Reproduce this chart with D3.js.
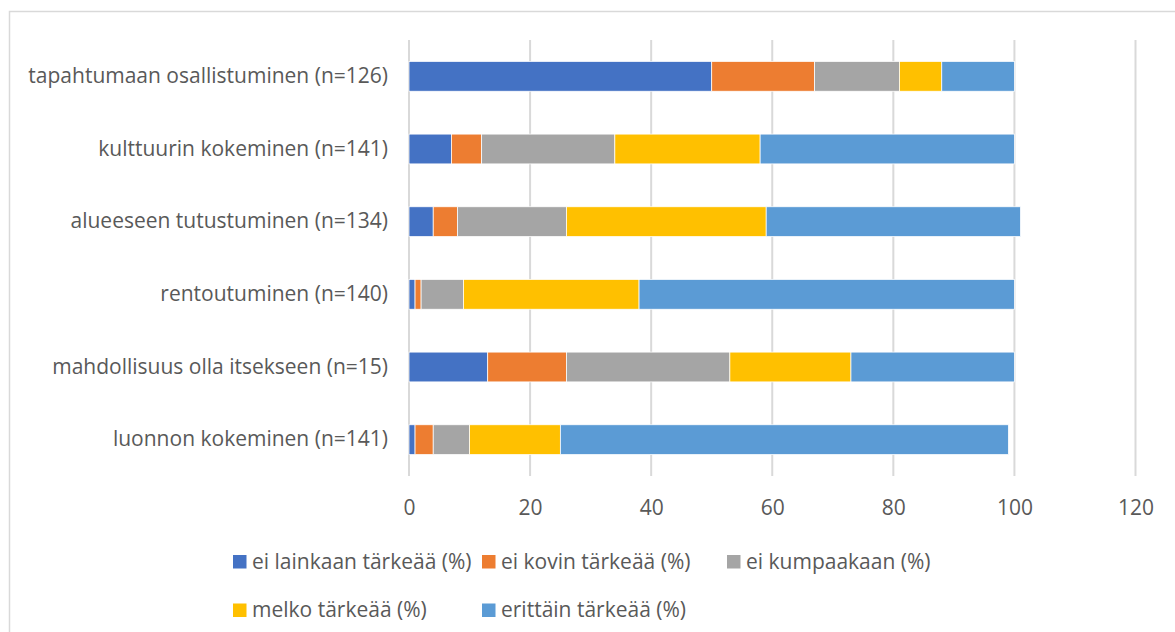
<!DOCTYPE html>
<html>
<head>
<meta charset="utf-8">
<script src="https://cdn.jsdelivr.net/npm/d3@7"></script>
<style>
  html, body { margin: 0; padding: 0; background: #fff; }
  text { font-family: "Open Sans", sans-serif; fill: #595959; }
</style>
</head>
<body>
<div class="container"></div>
<script>
const categories = [
  'tapahtumaan osallistuminen (n=126)',
  'kulttuurin kokeminen (n=141)',
  'alueeseen tutustuminen (n=134)',
  'rentoutuminen (n=140)',
  'mahdollisuus olla itsekseen (n=15)',
  'luonnon kokeminen (n=141)',
];
const seriesNames = [
  'ei lainkaan tärkeää (%)',
  'ei kovin tärkeää (%)',
  'ei kumpaakaan (%)',
  'melko tärkeää (%)',
  'erittäin tärkeää (%)',
];
const eiLainkaan = [50, 7, 4, 1, 13, 1];
const eiKovin = [17, 5, 4, 1, 13, 3];
const eiKumpaakaan = [14, 22, 18, 7, 27, 6];
const melko = [7, 24, 33, 29, 20, 15];
const erittain = [12, 42, 42, 62, 27, 74];
const xTicks = [0, 20, 40, 60, 80, 100, 120];
const colors = ['#4472c4', '#ed7d31', '#a5a5a5', '#ffc000', '#5b9bd5'];

const width = 1175;
const height = 632;
const plotLeft = 409;
const plotRight = 1135.5;
const plotTop = 40;
const plotBottom = 476;
const fontSize = '21px';

const rows = categories.map((c, i) => ({
  cat: c,
  [seriesNames[0]]: eiLainkaan[i],
  [seriesNames[1]]: eiKovin[i],
  [seriesNames[2]]: eiKumpaakaan[i],
  [seriesNames[3]]: melko[i],
  [seriesNames[4]]: erittain[i],
}));
const stacked = d3.stack().keys(seriesNames)(rows);

const x = d3.scaleLinear().domain([0, 120]).range([plotLeft, plotRight]);
const y = d3.scaleBand().domain(categories).range([plotTop, plotBottom]).paddingInner(0.59).paddingOuter(0.295);

const svg = d3.select('.container')
  .append('svg')
  .attr('width', width)
  .attr('height', height);

svg.append('rect')
  .attr('x', 9.5).attr('y', 11.5)
  .attr('width', width).attr('height', height)
  .attr('fill', '#fff')
  .attr('stroke', '#d9d9d9')
  .attr('stroke-width', 1.5);

// gridlines
svg.append('g')
  .selectAll('line')
  .data(xTicks)
  .enter()
  .append('line')
  .attr('x1', (d) => x(d)).attr('x2', (d) => x(d))
  .attr('y1', plotTop).attr('y2', plotBottom)
  .attr('stroke', '#d9d9d9')
  .attr('stroke-width', 2);

// bars
svg.append('g')
  .selectAll('g')
  .data(stacked)
  .enter()
  .append('g')
  .attr('fill', (d, i) => colors[i])
  .selectAll('rect')
  .data((d) => d)
  .enter()
  .append('rect')
  .attr('x', (d) => x(d[0]))
  .attr('width', (d) => x(d[1]) - x(d[0]))
  .attr('y', (d) => y(d.data.cat))
  .attr('height', y.bandwidth())
  .attr('stroke', '#fff')
  .attr('stroke-width', 0.75);

// x axis labels
const xAxis = d3.axisBottom(x).tickValues(xTicks).tickSize(0).tickPadding(0);
svg.append('g')
  .attr('transform', `translate(0, ${plotBottom})`)
  .call(xAxis)
  .call((g) => g.select('.domain').remove())
  .selectAll('text')
  .attr('y', 32)
  .attr('dy', '0.32em')
  .style('font-size', fontSize)
  .style('font-family', '"Open Sans", sans-serif')
  .attr('fill', '#595959');

// y axis labels
const yAxis = d3.axisLeft(y).tickSize(0).tickPadding(21);
svg.append('g')
  .attr('transform', `translate(${plotLeft}, 0)`)
  .call(yAxis)
  .call((g) => g.select('.domain').remove())
  .selectAll('text')
  .style('font-size', fontSize)
  .style('font-family', '"Open Sans", sans-serif')
  .attr('fill', '#595959');

// legend
const legendPos = [[233, 561.5], [482, 561.5], [727, 561.5], [233, 610], [482, 610]];
const legend = svg.append('g')
  .selectAll('g')
  .data(seriesNames)
  .enter()
  .append('g')
  .attr('transform', (d, i) => `translate(${legendPos[i][0]}, ${legendPos[i][1]})`);
legend.append('rect')
  .attr('x', 0).attr('y', -6.5)
  .attr('width', 13.5).attr('height', 13.5)
  .attr('fill', (d, i) => colors[i]);
legend.append('text')
  .attr('x', 19)
  .attr('dy', '0.35em')
  .style('font-size', fontSize)
  .text((d) => d);
</script>
</body>
</html>
